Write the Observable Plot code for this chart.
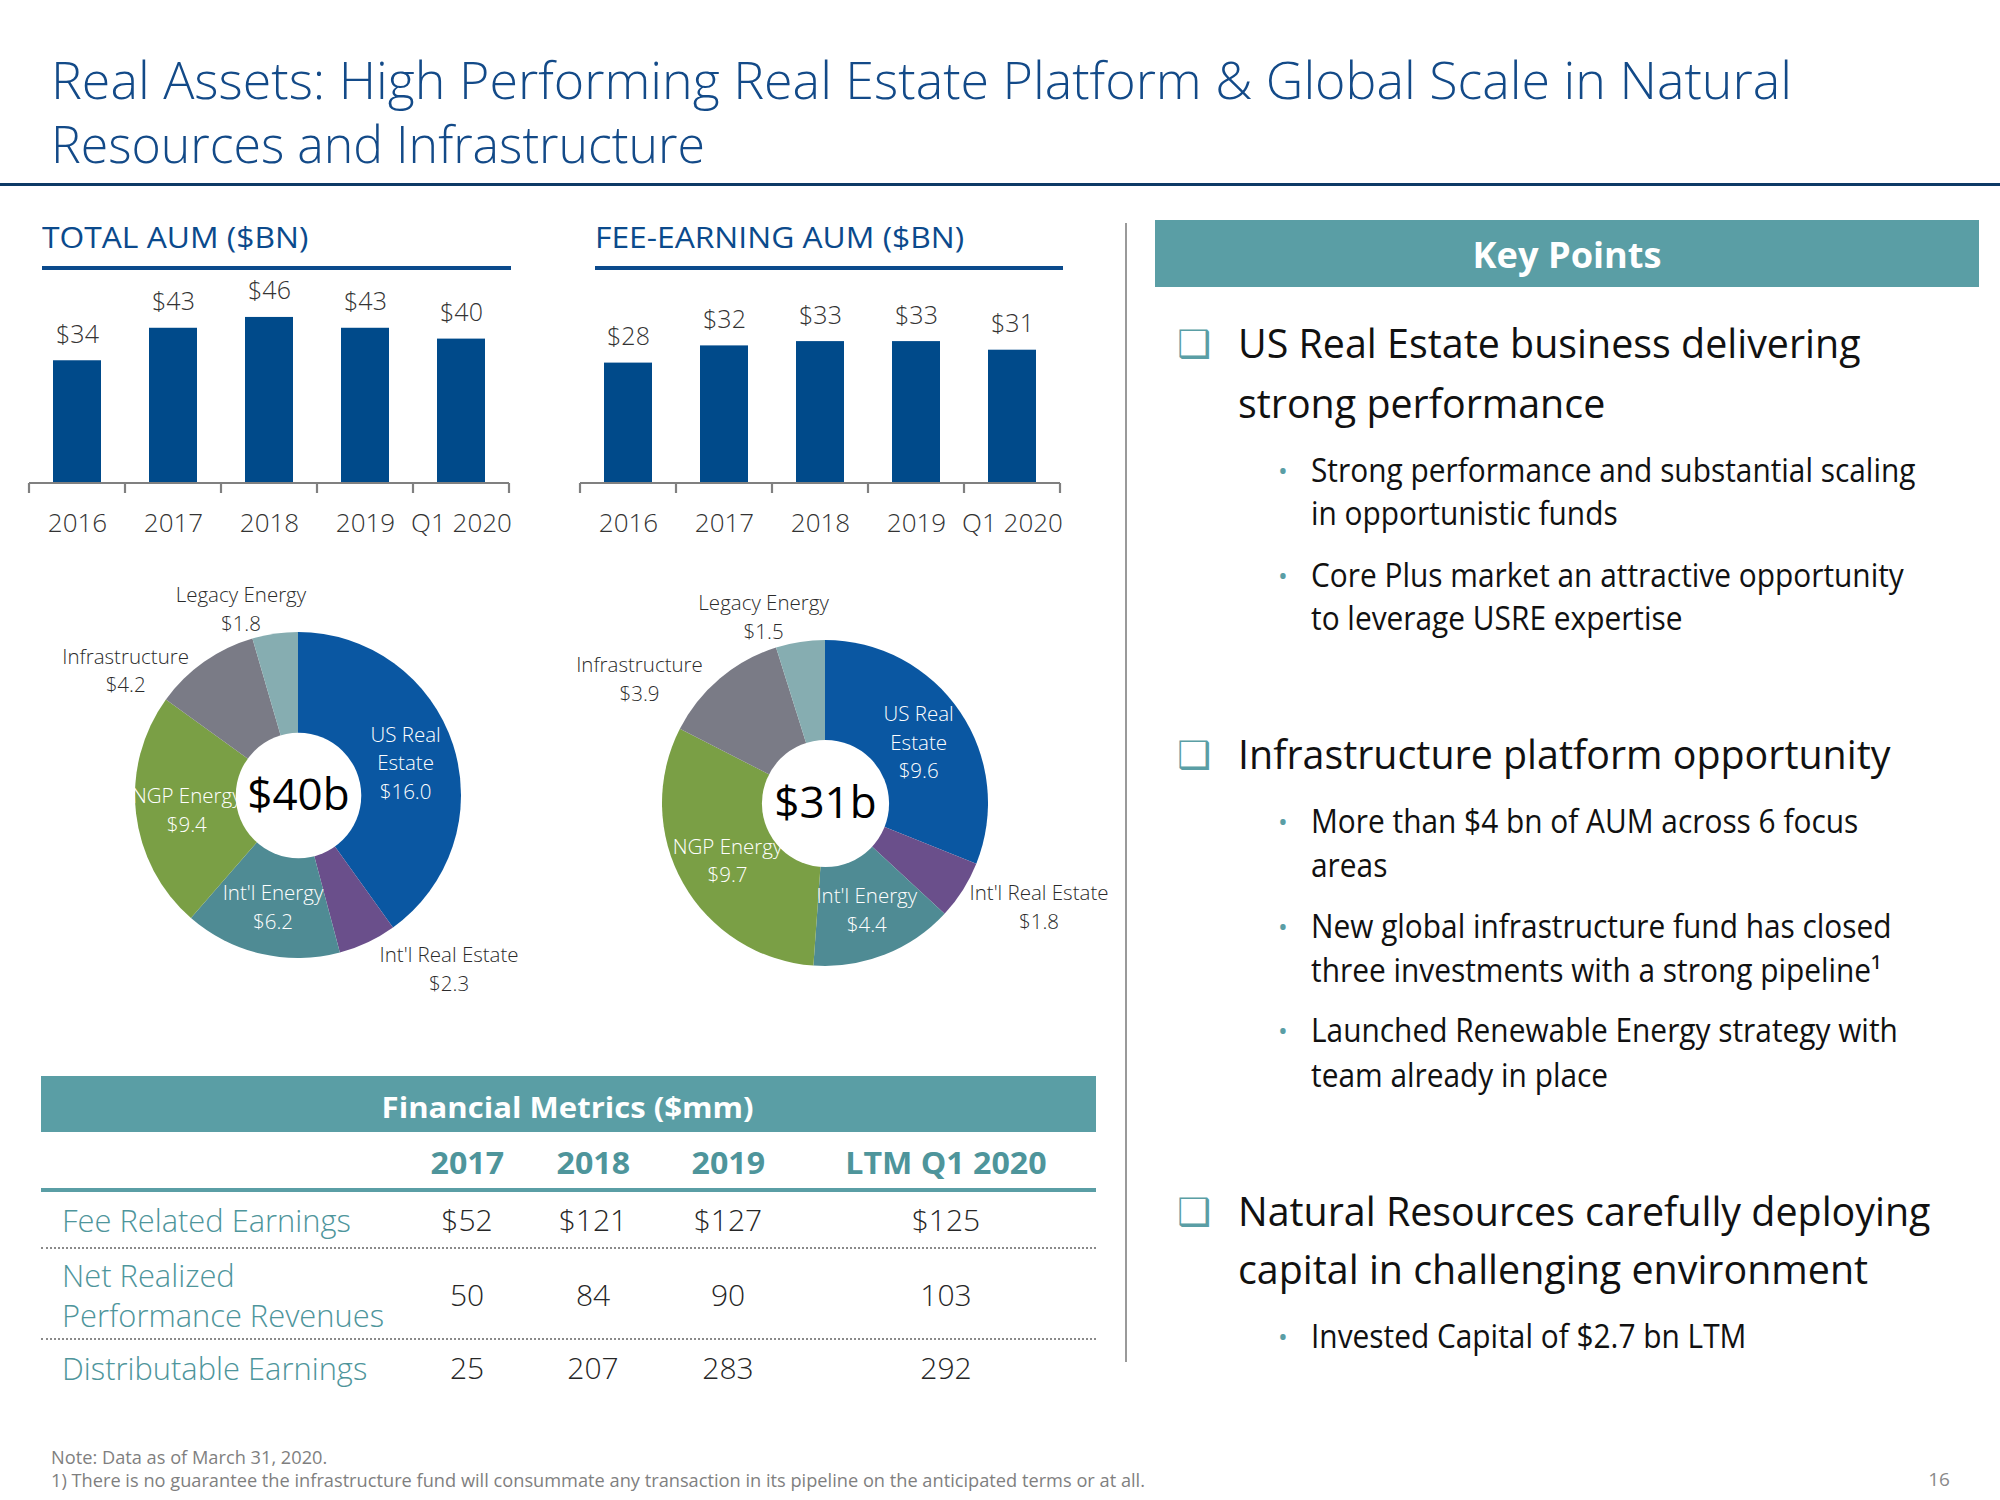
<!DOCTYPE html>
<html>
<head>
<meta charset="utf-8">
<script src="https://cdn.jsdelivr.net/npm/d3@7"></script>
<script src="https://cdn.jsdelivr.net/npm/@observablehq/plot@0.6"></script>
<style>
  html, body { margin: 0; padding: 0; background: #fff; }
  #slide { position: relative; width: 2000px; height: 1500px; overflow: hidden; background: #fff; }
  #slide svg { position: absolute; }
</style>
</head>
<body>
<div id="slide"></div>
<script>
// ---------------- DATA ----------------
const years = ["2016", "2017", "2018", "2019", "Q1 2020"];
const totalAum = [34, 43, 46, 43, 40];
const feeEarningAum = [28, 32, 33, 33, 31];

const segments = ["US Real Estate", "Int'l Real Estate", "Int'l Energy", "NGP Energy", "Infrastructure", "Legacy Energy"];
const segmentLabels = ["US Real\nEstate", "Int'l Real Estate", "Int'l Energy", "NGP Energy", "Infrastructure", "Legacy Energy"];
const totalAumBySegment = [16.0, 2.3, 6.2, 9.4, 4.2, 1.8];
const feeAumBySegment = [9.6, 1.8, 4.4, 9.7, 3.9, 1.5];

const metricYears = ["2017", "2018", "2019", "LTM Q1 2020"];
const metricNames = [["Fee Related Earnings"], ["Net Realized", "Performance Revenues"], ["Distributable Earnings"]];
const feeRelatedEarnings = [52, 121, 127, 125];
const netRealizedPerfRevenues = [50, 84, 90, 103];
const distributableEarnings = [25, 207, 283, 292];

// ---------------- TEXT ----------------
const titleLines = ["Real Assets: High Performing Real Estate Platform & Global Scale in Natural", "Resources and Infrastructure"];
const sectionTitles = ["TOTAL AUM ($BN)", "FEE-EARNING AUM ($BN)"];
const tableTitle = "Financial Metrics ($mm)";
const keyPointsTitle = "Key Points";
const keyHeadings = [
  ["US Real Estate business delivering", "strong performance"],
  ["Infrastructure platform opportunity"],
  ["Natural Resources carefully deploying", "capital in challenging environment"]
];
const keyBullets = [
  [["Strong performance and substantial scaling", "in opportunistic funds"], ["Core Plus market an attractive opportunity", "to leverage USRE expertise"]],
  [["More than $4 bn of AUM across 6 focus", "areas"], ["New global infrastructure fund has closed", "three investments with a strong pipeline\u00b9"], ["Launched Renewable Energy strategy with", "team already in place"]],
  [["Invested Capital of $2.7 bn LTM"]]
];
const footnotes = ["Note: Data as of March 31, 2020.", "1)  There is no guarantee the infrastructure fund will consummate any transaction in its pipeline on the anticipated terms or at all."];
const pageNumber = "16";

// ---------------- STYLE / LAYOUT ----------------
const FONT = '"Open Sans", "Noto Sans", sans-serif';
const TITLE_BLUE = "#134a88";
const NAVY = "#0d3a66";
const SECTION_BLUE = "#0b4a8c";
const BAR_COLOR = "#004a8a";
const TEAL = "#5a9ea5";
const TEAL_TEXT = "#4e959b";
const SEG_COLORS = ["#0a57a2", "#6a4f8b", "#4f8b94", "#7a9f45", "#7a7b86", "#86adb1"];
const PIE_FONT = 20.5, PIE_LH = 1.4, INSIDE_MIN = 0.135, LABEL_R_IN = 0.69, LABEL_R_OUT = 1.166;

const slide = document.getElementById("slide");

function box(left, top, width, height, css) {
  const d = document.createElement("div");
  d.style.cssText = `position:absolute;left:${left}px;top:${top}px;width:${width}px;height:${height}px;${css}`;
  slide.appendChild(d);
  return d;
}

const groups = {};
let autoId = 0;
function txt(content, x, cy, size, o = {}) {
  const d = document.createElement("div");
  d.textContent = content;
  const lh = Math.round(size * (o.lh || 1.2));
  d.style.cssText = `position:absolute;white-space:nowrap;left:${x}px;top:${cy - lh / 2}px;font-size:${size}px;line-height:${lh}px;` +
    `color:${o.color || "#111"};font-weight:${o.weight || 400};font-family:${o.family || FONT};`;
  slide.appendChild(d);
  const g = o.g || ("_" + (autoId++));
  (groups[g] = groups[g] || []).push({d, x, anchor: o.anchor || "start", w: o.w});
  return d;
}
function applyFits() {
  for (const g in groups) {
    const items = groups[g];
    items.forEach(it => it.nat = it.d.getBoundingClientRect().width);
    const ratios = items.filter(it => it.w).map(it => it.w / it.nat);
    const f = ratios.length ? d3.mean(ratios) : 1;
    for (const it of items) {
      if (it.anchor === "middle") { it.d.style.left = (it.x - it.nat / 2) + "px"; it.d.style.transformOrigin = "50% 50%"; }
      else if (it.anchor === "end") { it.d.style.left = (it.x - it.nat) + "px"; it.d.style.transformOrigin = "100% 50%"; }
      else it.d.style.transformOrigin = "0 50%";
      it.d.style.transform = `scaleX(${f})`;
    }
  }
}
function place(svg, left, top) {
  svg.style.position = "absolute";
  svg.style.left = left + "px";
  svg.style.top = top + "px";
  slide.appendChild(svg);
}

// ---------------- TITLE ----------------
txt(titleLines[0], 51, 78, 52, {color: TITLE_BLUE, weight: 300, g: "title1", w: 1741, lh: 1.05});
txt(titleLines[1], 51, 142, 52, {color: TITLE_BLUE, weight: 300, g: "title2", w: 654, lh: 1.05});
box(0, 183, 2000, 3, `background:${NAVY};`);

// ---------------- SECTION HEADERS ----------------
txt(sectionTitles[0], 42, 237, 30, {color: SECTION_BLUE, g: "sec", w: 262});
txt(sectionTitles[1], 595, 237, 30, {color: SECTION_BLUE, g: "sec", w: 375});
box(42, 266, 469, 4, `background:${SECTION_BLUE};`);
box(595, 266, 468, 4, `background:${SECTION_BLUE};`);

// ---------------- BAR CHARTS ----------------
function boundaryAxis(scales) {
  const x = scales.x, y = scales.y;
  const bw = x.bandwidth(), step = x.step(), pad = (step - bw) / 2;
  const bounds = years.map(c => x(c) - pad).concat([x(years[years.length - 1]) + bw + pad]);
  const y0 = y(0);
  const g = d3.create("svg:g").attr("stroke", "#808080").attr("stroke-width", 2.2);
  g.append("line").attr("x1", bounds[0]).attr("x2", bounds[bounds.length - 1]).attr("y1", y0).attr("y2", y0);
  g.selectAll("line.t").data(bounds).join("line").attr("class", "t")
    .attr("x1", d => d).attr("x2", d => d).attr("y1", y0).attr("y2", y0 + 10);
  return g.node();
}
function barChart(values, o) {
  const data = years.map((year, i) => ({year, value: values[i]}));
  const svg = Plot.plot({
    width: o.width, height: o.height,
    marginLeft: o.ml, marginRight: o.mr, marginTop: o.mt, marginBottom: o.mb,
    x: {type: "band", domain: years, paddingInner: 0.5, paddingOuter: 0.25, tickSize: 0, tickPadding: 30, label: null},
    y: {domain: o.yDomain, axis: null},
    style: {fontFamily: FONT, fontSize: "26px", fontWeight: 300, color: "#333", background: "transparent", overflow: "visible"},
    marks: [
      Plot.barY(data, {x: "year", y: "value", fill: BAR_COLOR}),
      (index, scales) => boundaryAxis(scales),
      Plot.text(data, {x: "year", y: "value", text: d => "$" + d.value, dy: -26, fontSize: 25, fill: "#333"})
    ]
  });
  place(svg, o.left, o.top);
}
barChart(totalAum, {left: 0, top: 275, width: 540, height: 285, ml: 28, mr: 30, mt: 27.5, mb: 77, yDomain: [0, 50]});
barChart(feeEarningAum, {left: 552, top: 275, width: 540, height: 285, ml: 28, mr: 32, mt: 36, mb: 77, yDomain: [0, 40]});

// ---------------- DONUTS ----------------
function measure(text, size, weight) {
  const c = measure.ctx || (measure.ctx = document.createElement("canvas").getContext("2d"));
  c.font = `${weight} ${size}px ${FONT}`;
  return d3.max(text.split("\n"), t => c.measureText(t).width);
}
function donut(values, o) {
  const W = 566, H = 480, R = o.R, hole = o.hole;
  const xMax = W / 2 / R;
  const total = d3.sum(values);
  const arcs = d3.pie().sort(null).value(d => d)(values);
  const rows = arcs.map((a, i) => {
    const mid = (a.startAngle + a.endAngle) / 2;
    return {i, value: values[i], frac: values[i] / total, sin: Math.sin(mid), cos: Math.cos(mid),
            text: segmentLabels[i] + "\n$" + values[i].toFixed(1)};
  });
  const inside = rows.filter(r => r.frac >= INSIDE_MIN).map(r => ({...r, x: LABEL_R_IN * r.sin, y: LABEL_R_IN * r.cos}));
  const outside = rows.filter(r => r.frac < INSIDE_MIN).map(r => {
    const w = measure(r.text, PIE_FONT, 300) / R;
    const side = r.sin >= 0 ? 1 : -1;
    const k = Math.min(1, Math.abs(r.sin) / 0.3);
    let x = LABEL_R_OUT * r.sin + side * k * w / 2;
    x = Math.max(-xMax + w / 2, Math.min(xMax - w / 2, x));   // keep labels inside the chart area
    return {...r, side, x, y: LABEL_R_OUT * r.cos};
  });
  const blockH = (2 * PIE_FONT * PIE_LH + 4) / R;
  for (const side of [1, -1]) {
    const s = outside.filter(d => d.side === side).sort((a, b) => b.y - a.y);
    for (let k = 1; k < s.length; k++) if (s[k - 1].y - s[k].y < blockH) s[k].y = s[k - 1].y - blockH;
  }
  const svg = Plot.plot({
    width: W, height: H, margin: 0,
    x: {domain: [-xMax, xMax], axis: null},
    y: {domain: [-H / 2 / R, H / 2 / R], axis: null},
    style: {fontFamily: FONT, fontWeight: 300, background: "transparent", overflow: "visible"},
    marks: [
      (index, scales) => {
        const x = scales.x, y = scales.y;
        const rpx = x(1) - x(0);
        const g = d3.create("svg:g").attr("transform", `translate(${x(0)},${y(0)})`);
        const arc = d3.arc().innerRadius(0).outerRadius(rpx);
        g.selectAll("path").data(arcs).join("path").attr("d", arc).attr("fill", d => SEG_COLORS[d.index]);
        return g.node();
      },
      Plot.text(inside, {x: "x", y: "y", text: "text", fill: "#ffffff", fontSize: PIE_FONT, lineHeight: PIE_LH}),
      Plot.dot([{x: 0, y: 0}], {x: "x", y: "y", r: hole * R, fill: "#ffffff"}),
      Plot.text([{x: 0, y: 0, t: "$" + Math.round(total) + "b"}], {x: "x", y: "y", text: "t", fontSize: 44, fontWeight: 400, fill: "#000"}),
      Plot.text(outside, {x: "x", y: "y", text: "text", fill: "#2b2b2b", fontSize: PIE_FONT, lineHeight: PIE_LH})
    ]
  });
  place(svg, o.cx - W / 2, o.cy - H / 2);
}
donut(totalAumBySegment, {cx: 298, cy: 795, R: 163, hole: 0.385});
donut(feeAumBySegment, {cx: 825, cy: 803, R: 163, hole: 0.39});

// ---------------- TABLE ----------------
box(41, 1076, 1055, 56, `background:${TEAL};`);
txt(tableTitle, 568, 1106, 29, {color: "#fff", weight: 700, anchor: "middle", w: 372});
const colX = [467, 593, 728, 946];
const colW = [72, 74, 74, 203];
metricYears.forEach((yr, j) => txt(yr, colX[j], 1163, 30, {color: TEAL_TEXT, weight: 700, anchor: "middle", g: "colh", w: colW[j]}));
box(41, 1188, 1055, 4, `background:${TEAL};`);
const rowLabelY = [[1220], [1275, 1315], [1368]];
const rowLabelW = [[290], [175, 319], [303]];
const rowValueY = [1220, 1295, 1368];
const rowValues = [feeRelatedEarnings.map(v => "$" + v), netRealizedPerfRevenues.map(String), distributableEarnings.map(String)];
metricNames.forEach((lines, r) => {
  lines.forEach((ln, k) => txt(ln, 62, rowLabelY[r][k], 31, {color: TEAL_TEXT, weight: 300, g: "rowlab", w: rowLabelW[r][k]}));
  rowValues[r].forEach((v, j) => txt(v, colX[j], rowValueY[r], 30, {color: "#262626", weight: 300, anchor: "middle", g: "vals"}));
});
box(41, 1247, 1055, 0, "border-top:2px dotted #8a8a8a;");
box(41, 1338, 1055, 0, "border-top:2px dotted #8a8a8a;");

// ---------------- DIVIDER ----------------
box(1125, 223, 2, 1139, "background:#9a9a9a;");

// ---------------- KEY POINTS ----------------
box(1155, 220, 824, 67, `background:${TEAL};`);
txt(keyPointsTitle, 1567, 254, 36, {color: "#fff", weight: 700, anchor: "middle", w: 189});
const headingY = [[343, 403], [754], [1211, 1269]];
const headingW = [[623, 367], [645], [694, 636]];
const bulletY = [[[470, 513], [575, 618]], [[821, 865], [926, 970], [1030, 1075]], [[1336]]];
const bulletW = [[[602, 304], [593, 375]], [[554, null], [578, 564], [588, 298]], [[436]]];
keyHeadings.forEach((lines, i) => {
  txt("\u2751", 1194, headingY[i][0] + 1, 38, {color: TEAL, weight: 700, family: '"DejaVu Sans", sans-serif', anchor: "middle"});
  lines.forEach((ln, k) => txt(ln, 1238, headingY[i][k], 40, {color: "#111", g: "head", w: headingW[i][k]}));
  keyBullets[i].forEach((b, j) => {
    txt("\u2022", 1283, bulletY[i][j][0], 26, {color: TEAL, anchor: "middle"});
    b.forEach((ln, k) => txt(ln, 1311, bulletY[i][j][k], 32, {color: "#111", g: "bul", w: bulletW[i][j][k]}));
  });
});

// ---------------- FOOTER ----------------
txt(footnotes[0], 51, 1457, 18.5, {color: "#7f7f7f", g: "foot", w: 274, lh: 1.1});
txt(footnotes[1], 51, 1480, 18.5, {color: "#7f7f7f", g: "foot", w: 1103, lh: 1.1});
txt(pageNumber, 1939, 1479, 19, {color: "#8a8a8a", anchor: "middle"});

applyFits();
</script>
</body>
</html>
